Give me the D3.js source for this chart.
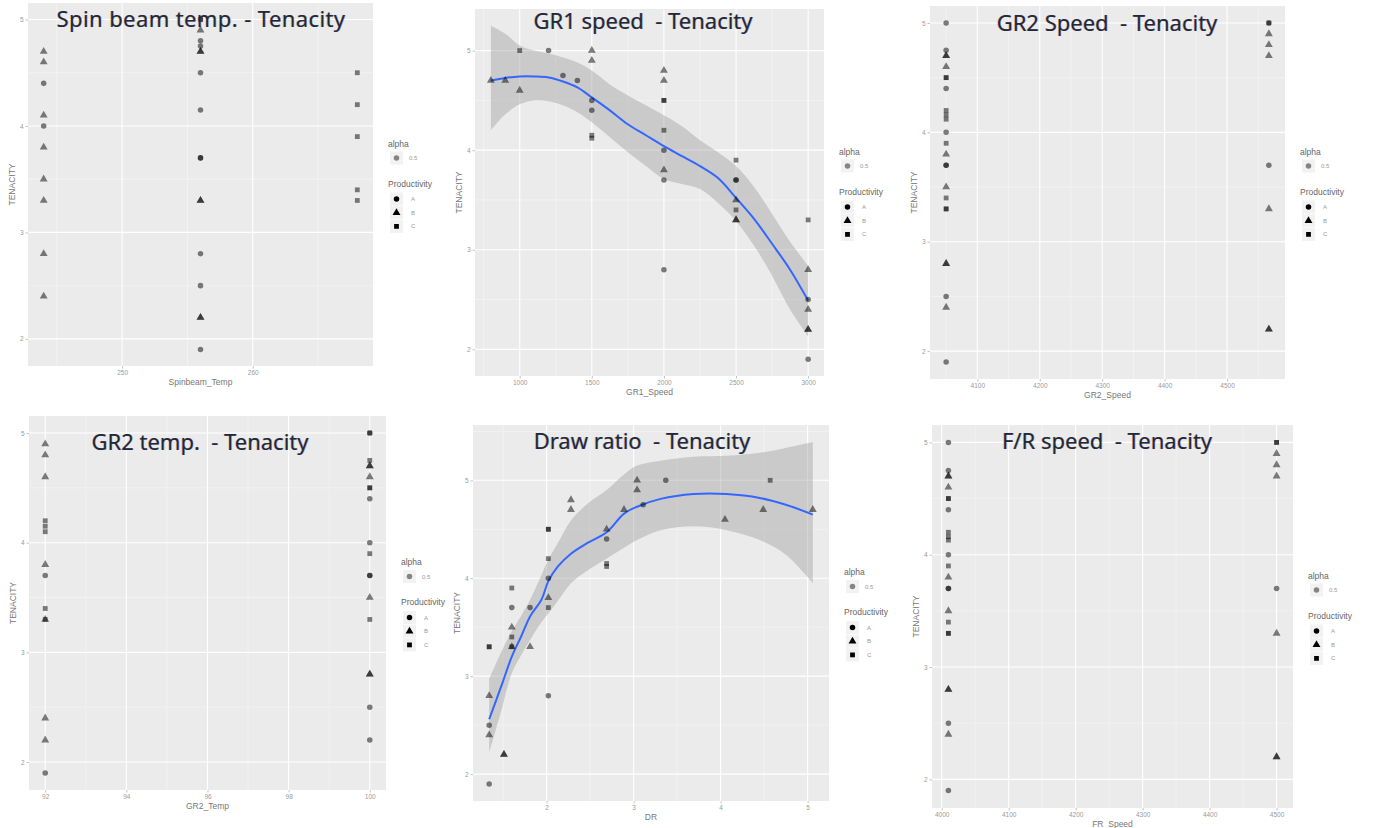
<!DOCTYPE html>
<html>
<head>
<meta charset="utf-8">
<script src="https://cdn.jsdelivr.net/npm/d3@7"></script>
<style>
  body { margin: 0; background: #ffffff; }
</style>
</head>
<body>
<div id="chart"></div>
<script>
//----------------------------------------------------------------
// données : [valeur x, tenacity, productivity]
//----------------------------------------------------------------
var tenacityTicks = [2, 3, 4, 5];

var spinbeamTicks = [250, 260];
var spinbeamPts = [
  [244, 4.7, "B"], [244, 4.6, "B"], [244, 4.4, "A"], [244, 4.1, "B"], [244, 4.0, "A"],
  [244, 3.8, "B"], [244, 3.5, "B"], [244, 3.3, "B"], [244, 2.8, "B"], [244, 2.4, "B"],
  [256, 5.0, "A"], [256, 5.0, "C"], [256, 4.9, "B"], [256, 4.8, "A"], [256, 4.75, "A"],
  [256, 4.7, "B"], [256, 4.7, "B"], [256, 4.5, "A"], [256, 4.15, "A"], [256, 3.7, "A"],
  [256, 3.7, "A"], [256, 3.3, "B"], [256, 3.3, "B"], [256, 2.8, "A"], [256, 2.5, "A"],
  [256, 2.2, "B"], [256, 2.2, "B"], [256, 1.9, "A"],
  [268, 4.5, "C"], [268, 4.2, "C"], [268, 3.9, "C"], [268, 3.4, "C"], [268, 3.3, "C"]
];

var gr1SpeedTicks = [1000, 1500, 2000, 2500, 3000];
var gr1SpeedPts = [
  [800, 4.7, "B"], [900, 4.7, "B"], [1000, 5.0, "C"], [1000, 4.6, "B"],
  [1200, 5.0, "A"], [1300, 4.75, "A"], [1400, 4.7, "A"],
  [1500, 5.0, "B"], [1500, 4.9, "B"], [1500, 4.5, "A"], [1500, 4.4, "A"], [1500, 4.15, "C"], [1500, 4.12, "C"],
  [2000, 4.8, "B"], [2000, 4.7, "B"], [2000, 4.5, "C"], [2000, 4.5, "C"], [2000, 4.2, "C"],
  [2000, 4.0, "A"], [2000, 3.8, "B"], [2000, 3.7, "A"], [2000, 2.8, "A"],
  [2500, 3.9, "C"], [2500, 3.7, "A"], [2500, 3.7, "A"], [2500, 3.5, "B"], [2500, 3.4, "C"],
  [2500, 3.3, "B"], [2500, 3.3, "B"],
  [3000, 3.3, "C"], [3000, 2.8, "B"], [3000, 2.5, "A"], [3000, 2.4, "B"], [3000, 2.2, "B"],
  [3000, 2.2, "B"], [3000, 1.9, "A"]
];
// courbe loess
var gr1SmoothX   = [800, 900, 1000, 1100, 1200, 1300, 1400, 1500, 1625, 1750, 1875, 2000, 2125, 2250, 2375, 2500, 2625, 2750, 2875, 3000];
var gr1SmoothFit = [4.70, 4.725, 4.74, 4.74, 4.73, 4.69, 4.63, 4.53, 4.40, 4.26, 4.15, 4.04, 3.94, 3.84, 3.72, 3.52, 3.31, 3.06, 2.80, 2.49];
var gr1SmoothHi  = [5.25, 5.17, 5.05, 5.00, 4.97, 4.93, 4.88, 4.80, 4.66, 4.55, 4.45, 4.35, 4.24, 4.10, 3.98, 3.84, 3.63, 3.36, 3.08, 2.84];
var gr1SmoothLo  = [4.20, 4.36, 4.46, 4.50, 4.49, 4.45, 4.38, 4.28, 4.13, 3.98, 3.84, 3.71, 3.66, 3.61, 3.47, 3.29, 3.04, 2.74, 2.40, 2.13];

var gr2SpeedTicks = [4100, 4200, 4300, 4400, 4500];
var gr2SpeedPts = [
  [4050, 5.0, "A"], [4050, 4.75, "A"], [4050, 4.7, "B"], [4050, 4.7, "B"], [4050, 4.6, "B"],
  [4050, 4.5, "C"], [4050, 4.5, "C"], [4050, 4.4, "A"], [4050, 4.2, "C"], [4050, 4.16, "C"],
  [4050, 4.12, "C"], [4050, 4.0, "A"], [4050, 3.9, "C"], [4050, 3.8, "B"], [4050, 3.7, "A"],
  [4050, 3.7, "A"], [4050, 3.5, "B"], [4050, 3.4, "C"], [4050, 3.3, "C"], [4050, 3.3, "C"],
  [4050, 2.8, "B"], [4050, 2.8, "B"], [4050, 2.5, "A"], [4050, 2.4, "B"], [4050, 1.9, "A"],
  [4567, 5.0, "C"], [4567, 5.0, "A"], [4567, 4.9, "B"], [4567, 4.8, "B"], [4567, 4.7, "B"],
  [4567, 3.7, "A"], [4567, 3.3, "B"], [4567, 2.2, "B"], [4567, 2.2, "B"]
];

var gr2TempTicks = [92, 94, 96, 98, 100];
var gr2TempPts = [
  [92, 4.9, "B"], [92, 4.8, "B"], [92, 4.6, "B"], [92, 4.2, "C"], [92, 4.15, "C"], [92, 4.1, "C"],
  [92, 3.8, "B"], [92, 3.7, "A"], [92, 3.4, "C"], [92, 3.3, "B"], [92, 3.3, "C"], [92, 2.4, "B"],
  [92, 2.2, "B"], [92, 1.9, "A"],
  [100, 5.0, "A"], [100, 5.0, "C"], [100, 4.75, "C"], [100, 4.7, "B"], [100, 4.7, "B"],
  [100, 4.6, "B"], [100, 4.5, "C"], [100, 4.5, "C"], [100, 4.4, "A"], [100, 4.0, "A"],
  [100, 3.9, "C"], [100, 3.7, "A"], [100, 3.7, "A"], [100, 3.5, "B"], [100, 3.3, "C"],
  [100, 2.8, "B"], [100, 2.8, "B"], [100, 2.5, "A"], [100, 2.2, "A"]
];

var drTicks = [2, 3, 4, 5];
var drPts = [
  [1.34, 1.9, "A"], [1.34, 2.4, "B"], [1.34, 2.5, "A"], [1.34, 2.8, "B"], [1.34, 3.3, "C"], [1.34, 3.3, "C"],
  [1.51, 2.2, "B"], [1.51, 2.2, "B"],
  [1.60, 3.9, "C"], [1.60, 3.7, "A"], [1.60, 3.5, "B"], [1.60, 3.4, "C"], [1.60, 3.3, "C"], [1.60, 3.3, "B"],
  [1.81, 3.7, "A"], [1.81, 3.3, "B"],
  [2.02, 4.5, "C"], [2.02, 4.5, "C"], [2.02, 4.2, "C"], [2.02, 4.0, "A"], [2.02, 3.8, "B"],
  [2.02, 3.7, "C"], [2.02, 2.8, "A"],
  [2.28, 4.8, "B"], [2.28, 4.7, "B"],
  [2.69, 4.5, "B"], [2.69, 4.4, "A"], [2.69, 4.15, "C"], [2.69, 4.12, "C"],
  [2.89, 4.7, "B"], [3.04, 5.0, "B"], [3.04, 4.9, "B"], [3.11, 4.75, "A"], [3.37, 5.0, "A"],
  [4.05, 4.6, "B"], [4.49, 4.7, "B"], [4.57, 5.0, "C"], [5.06, 4.7, "B"]
];
var drSmoothX   = [1.34, 1.48, 1.60, 1.71, 1.81, 1.94, 2.02, 2.13, 2.28, 2.47, 2.69, 2.89, 3.04, 3.31, 3.69, 4.07, 4.45, 4.75, 5.06];
var drSmoothFit = [2.56, 2.90, 3.20, 3.41, 3.61, 3.78, 3.97, 4.12, 4.25, 4.36, 4.47, 4.66, 4.73, 4.81, 4.86, 4.86, 4.82, 4.75, 4.65];
var drSmoothHi  = [2.97, 3.25, 3.46, 3.62, 3.78, 4.03, 4.19, 4.36, 4.59, 4.76, 4.90, 5.06, 5.15, 5.20, 5.24, 5.25, 5.28, 5.33, 5.39];
var drSmoothLo  = [2.22, 2.65, 3.03, 3.22, 3.37, 3.55, 3.64, 3.77, 3.95, 4.08, 4.20, 4.31, 4.39, 4.49, 4.53, 4.49, 4.39, 4.24, 3.95];

var frSpeedTicks = [4000, 4100, 4200, 4300, 4400, 4500];
var frSpeedPts = [
  [4010, 5.0, "A"], [4010, 4.75, "A"], [4010, 4.7, "B"], [4010, 4.7, "B"], [4010, 4.6, "B"],
  [4010, 4.5, "C"], [4010, 4.5, "C"], [4010, 4.4, "A"], [4010, 4.2, "C"], [4010, 4.16, "C"],
  [4010, 4.13, "C"], [4010, 4.0, "A"], [4010, 3.9, "C"], [4010, 3.8, "B"], [4010, 3.7, "A"],
  [4010, 3.7, "A"], [4010, 3.5, "B"], [4010, 3.4, "C"], [4010, 3.3, "C"], [4010, 3.3, "C"],
  [4010, 2.8, "B"], [4010, 2.8, "B"], [4010, 2.5, "A"], [4010, 2.4, "B"], [4010, 1.9, "A"],
  [4500, 5.0, "C"], [4500, 5.0, "C"], [4500, 4.9, "B"], [4500, 4.8, "B"], [4500, 4.7, "B"],
  [4500, 3.7, "A"], [4500, 3.3, "B"], [4500, 2.2, "B"], [4500, 2.2, "B"]
];

var productivity = ["A", "B", "C"];

//----------------------------------------------------------------
// mise en page des six panneaux (zone de tracé en pixels)
//----------------------------------------------------------------
var panneaux = [
  { titre: "Spin beam temp. - Tenacity", xlab: "Spinbeam_Temp", pts: spinbeamPts, xTicks: spinbeamTicks,
    box: [28, 3, 373, 366], titre_xy: [201, 27], espace: 0.4 },
  { titre: "GR1 speed  - Tenacity", xlab: "GR1_Speed", pts: gr1SpeedPts, xTicks: gr1SpeedTicks,
    smooth: { x: gr1SmoothX, fit: gr1SmoothFit, lo: gr1SmoothLo, hi: gr1SmoothHi },
    box: [475, 9, 824, 376], titre_xy: [643, 29], espace: 0 },
  { titre: "GR2 Speed  - Tenacity", xlab: "GR2_Speed", pts: gr2SpeedPts, xTicks: gr2SpeedTicks,
    box: [930, 6, 1285, 379], titre_xy: [1107, 31], espace: 0 },
  { titre: "GR2 temp.  - Tenacity", xlab: "GR2_Temp", pts: gr2TempPts, xTicks: gr2TempTicks,
    box: [29, 416, 386, 790], titre_xy: [200, 450], espace: 0, clipW: 447 },
  { titre: "Draw ratio  - Tenacity", xlab: "DR", pts: drPts, xTicks: drTicks,
    smooth: { x: drSmoothX, fit: drSmoothFit, lo: drSmoothLo, hi: drSmoothHi },
    box: [473, 425, 829, 801], titre_xy: [642, 449], espace: 0 },
  { titre: "F/R speed  - Tenacity", xlab: "FR_Speed", pts: frSpeedPts, xTicks: frSpeedTicks,
    box: [932, 425, 1293, 808], titre_xy: [1107, 449], espace: 0 }
];

var largeur = 1376, hauteur = 828;
var svg = d3.select("#chart")
  .append("svg")
  .attr("width", largeur)
  .attr("height", hauteur);

var formes = { A: d3.symbolCircle, B: d3.symbolTriangle, C: d3.symbolSquare };
var tailles = { A: 24, B: 27, C: 23 };
var policeTitre = "'Noto Sans', 'Noto Sans CJK KR', sans-serif";
var policeAxe = "'Liberation Sans', Arial, sans-serif";

// expansion de 5% comme ggplot
function elargit(ext) {
  var d = (ext[1] - ext[0]) * 0.05;
  return [ext[0] - d, ext[1] + d];
}

function mineurs(majeurs, domaine) {
  var pas = majeurs.length > 1 ? majeurs[1] - majeurs[0] : 1;
  var res = majeurs.map(function(v){ return v - pas / 2; });
  res.push(majeurs[majeurs.length - 1] + pas / 2);
  return res.filter(function(v){ return v > domaine[0] && v < domaine[1]; });
}

//----------------------------------------------------------------
// dessine un panneau
//----------------------------------------------------------------
function dessinePanneau(p, i) {
  var b = p.box;
  var g = svg.append("g");
  if (p.clipW) {
    svg.append("clipPath").attr("id", "clip" + i)
      .append("rect").attr("x", 0).attr("y", 400).attr("width", p.clipW).attr("height", 428);
    g.attr("clip-path", "url(#clip" + i + ")");
  }

  var xs = p.pts.map(function(d){ return d[0]; });
  var ys = p.pts.map(function(d){ return d[1]; });
  if (p.smooth) {
    xs = xs.concat(p.smooth.x);
    ys = ys.concat(p.smooth.lo, p.smooth.hi);
  }
  var x = d3.scaleLinear().domain(elargit(d3.extent(xs))).range([b[0], b[2]]);
  var y = d3.scaleLinear().domain(elargit(d3.extent(ys))).range([b[3], b[1]]);

  // fond gris
  g.append("rect")
    .attr("x", b[0]).attr("y", b[1])
    .attr("width", b[2] - b[0]).attr("height", b[3] - b[1])
    .attr("fill", "#ebebeb");

  // grille mineure
  g.selectAll(".gxm").data(mineurs(p.xTicks, x.domain())).enter().append("line")
    .attr("x1", function(d){ return x(d); }).attr("x2", function(d){ return x(d); })
    .attr("y1", b[1]).attr("y2", b[3])
    .attr("stroke", "#f7f7f7").attr("stroke-width", 0.6);
  g.selectAll(".gym").data(mineurs(tenacityTicks, y.domain())).enter().append("line")
    .attr("y1", function(d){ return y(d); }).attr("y2", function(d){ return y(d); })
    .attr("x1", b[0]).attr("x2", b[2])
    .attr("stroke", "#f7f7f7").attr("stroke-width", 0.6);
  // grille majeure
  g.selectAll(".gx").data(p.xTicks).enter().append("line")
    .attr("x1", function(d){ return x(d); }).attr("x2", function(d){ return x(d); })
    .attr("y1", b[1]).attr("y2", b[3])
    .attr("stroke", "#ffffff").attr("stroke-width", 1.1);
  g.selectAll(".gy").data(tenacityTicks).enter().append("line")
    .attr("y1", function(d){ return y(d); }).attr("y2", function(d){ return y(d); })
    .attr("x1", b[0]).attr("x2", b[2])
    .attr("stroke", "#ffffff").attr("stroke-width", 1.1);

  // axes
  var axeX = g.append("g").attr("transform", "translate(0," + b[3] + ")")
    .call(d3.axisBottom(x).tickValues(p.xTicks).tickSize(2.5).tickPadding(2).tickFormat(d3.format("d")));
  var axeY = g.append("g").attr("transform", "translate(" + b[0] + ",0)")
    .call(d3.axisLeft(y).tickValues(tenacityTicks).tickSize(2.5).tickPadding(2).tickFormat(d3.format("d")));
  [axeX, axeY].forEach(function(a){
    a.select(".domain").remove();
    a.attr("font-size", "6.5px").attr("font-family", policeAxe);
    a.selectAll("line").attr("stroke", "#9a9a9a").attr("stroke-width", 0.6);
    a.selectAll("text").attr("fill", "#9a9a9a");
  });

  // bande de confiance + courbe
  if (p.smooth) {
    var s = p.smooth;
    var idx = d3.range(s.x.length);
    var aire = d3.area()
      .x(function(k){ return x(s.x[k]); })
      .y0(function(k){ return y(s.lo[k]); })
      .y1(function(k){ return y(s.hi[k]); })
      .curve(d3.curveCatmullRom);
    g.append("path").attr("d", aire(idx)).attr("fill", "#999999").attr("fill-opacity", 0.4);
    var ligne = d3.line()
      .x(function(k){ return x(s.x[k]); })
      .y(function(k){ return y(s.fit[k]); })
      .curve(d3.curveCatmullRom);
    g.append("path").attr("d", ligne(idx)).attr("fill", "none")
      .attr("stroke", "#3366ff").attr("stroke-width", 2);
  }

  // points
  g.selectAll(".pt").data(p.pts).enter().append("path")
    .attr("d", function(d){ return d3.symbol().type(formes[d[2]]).size(tailles[d[2]])(); })
    .attr("transform", function(d){ return "translate(" + x(d[0]) + "," + y(d[1]) + ")"; })
    .attr("fill", "#000000")
    .attr("fill-opacity", 0.5);

  // titres d'axes
  g.append("text")
    .attr("x", (b[0] + b[2]) / 2).attr("y", b[3] + 19)
    .attr("text-anchor", "middle")
    .attr("font-family", policeAxe).attr("font-size", "8.5px")
    .attr("fill", "#777777")
    .text(p.xlab);
  g.append("text")
    .attr("transform", "translate(" + (b[0] - 13) + "," + ((b[1] + b[3]) / 2) + ") rotate(-90)")
    .attr("text-anchor", "middle")
    .attr("font-family", policeAxe).attr("font-size", "8.5px")
    .attr("fill", "#777777")
    .text("TENACITY");

  // légende
  var lx = b[2] + 15, cy = (b[1] + b[3]) / 2;
  var leg = g.append("g").attr("font-family", policeAxe);
  leg.append("text").attr("x", lx).attr("y", cy - 38).attr("font-size", "8.5px")
    .attr("fill", "#666666").text("alpha");
  leg.append("rect").attr("x", lx + 2).attr("y", cy - 33).attr("width", 13).attr("height", 13)
    .attr("fill", "#f2f2f2");
  leg.append("path").attr("d", d3.symbol().type(d3.symbolCircle).size(24)())
    .attr("transform", "translate(" + (lx + 8.5) + "," + (cy - 26.5) + ")")
    .attr("fill", "#000000").attr("fill-opacity", 0.45);
  leg.append("text").attr("x", lx + 21).attr("y", cy - 24.5).attr("font-size", "6px")
    .attr("fill", "#999999").text("0.5");
  leg.append("text").attr("x", lx).attr("y", cy + 2).attr("font-size", "8.5px")
    .attr("fill", "#666666").text("Productivity");
  productivity.forEach(function(c, k){
    var ky = cy + 14.5 + k * 13.7;
    leg.append("rect").attr("x", lx + 2).attr("y", ky - 6.5).attr("width", 13).attr("height", 13)
      .attr("fill", "#f2f2f2");
    leg.append("path").attr("d", d3.symbol().type(formes[c]).size(tailles[c])())
      .attr("transform", "translate(" + (lx + 8.5) + "," + ky + ")")
      .attr("fill", "#000000");
    leg.append("text").attr("x", lx + 23).attr("y", ky + 2).attr("font-size", "6px")
      .attr("fill", "#999999").text(c);
  });

  // titre avec léger décalage de couleurs
  var tx = p.titre_xy[0], ty = p.titre_xy[1];
  [["#d08a3c", -0.6, 0.45], ["#3f5bd6", 0.6, 0.4], ["#222838", 0, 1]].forEach(function(c){
    g.append("text")
      .attr("x", tx + c[1]).attr("y", ty)
      .attr("text-anchor", "middle")
      .attr("font-family", policeTitre).attr("font-size", "22px")
      .attr("font-weight", 400)
      .attr("letter-spacing", p.espace)
      .attr("fill", c[0]).attr("fill-opacity", c[2])
      .style("white-space", "pre")
      .text(p.titre);
  });
}

panneaux.forEach(dessinePanneau);
</script>
</body>
</html>
